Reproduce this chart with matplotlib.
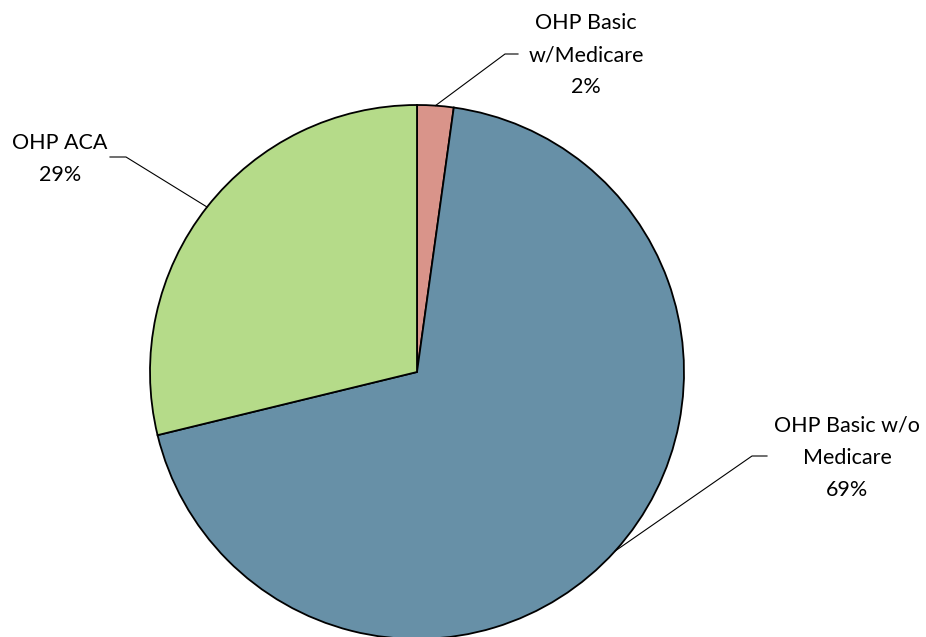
import numpy as np
import matplotlib
matplotlib.use("Agg")
import matplotlib.pyplot as plt

categories = ["OHP Basic\nw/Medicare", "OHP Basic w/o\nMedicare", "OHP ACA"]
values = [2.2, 69.0, 28.8]
colors = ["#D9948A", "#6790A7", "#B5DB89"]

# layout (pixel coords, y from top)
W, H = 926, 637
center_px = (417, 372)
radius_px = 267
elbows_px = [(505, 54), (752, 456), (126, 157)]
ends_px = [(518, 54), (767, 456), (110, 157)]
text_px = [(586, 55), (847, 458), (60, 159)]

plt.rcParams['font.family'] = ['Lato', 'DejaVu Sans']

fig = plt.figure(figsize=(W / 100, H / 100), dpi=100)
ax = fig.add_axes([0, 0, 1, 1])

cx, cy = center_px[0], H - center_px[1]
wedges, _ = ax.pie(values, colors=colors, startangle=90, counterclock=False,
                   center=(cx, cy), radius=radius_px, frame=True,
                   wedgeprops=dict(edgecolor='black', linewidth=1.3))
ax.set_xlim(0, W)
ax.set_ylim(0, H)
ax.set_aspect('equal')
ax.axis('off')

total = sum(values)
for w, cat, v, el, en, tp in zip(wedges, categories, values, elbows_px, ends_px, text_px):
    mid = np.deg2rad((w.theta1 + w.theta2) / 2)
    ax_x = cx + radius_px * np.cos(mid)
    ax_y = cy + radius_px * np.sin(mid)
    xs = [ax_x, el[0], en[0]]
    ys = [ax_y, H - el[1], H - en[1]]
    ax.plot(xs, ys, color='black', linewidth=0.8)
    pct = round(v / total * 100)
    ax.text(tp[0], H - tp[1], f"{cat}\n{pct}%", ha='center', va='center',
            fontsize=15.5, linespacing=1.75, color='black')

fig.savefig("out.png", dpi=100)
